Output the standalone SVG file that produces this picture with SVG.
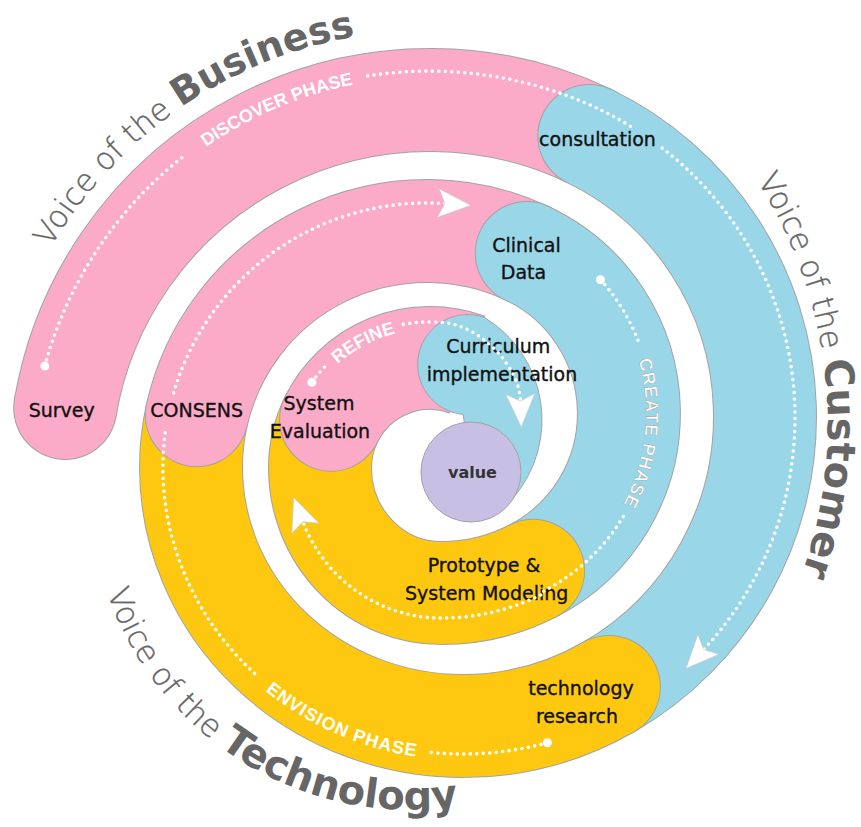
<svg xmlns="http://www.w3.org/2000/svg" width="861" height="827" viewBox="0 0 861 827">
<style>
.g{fill:none;stroke:#a3a3a3;stroke-width:104}
.cg{fill:#a3a3a3}
.pk{fill:none;stroke:#fbaac7;stroke-width:102}
.bl{fill:none;stroke:#99d7e8;stroke-width:102}
.yl{fill:none;stroke:#fdc80f;stroke-width:102}
.fpk{fill:#fbaac7}.fbl{fill:#99d7e8}.fyl{fill:#fdc80f}
.lb{font-family:'DejaVu Sans',Verdana,sans-serif;font-size:19px;fill:#111;stroke:#111;stroke-width:0.35;text-anchor:middle}
.dot{fill:none;stroke:#fff;stroke-width:3.6;stroke-linecap:round;stroke-dasharray:0 6.5}
.big{fill:#fff}
.ph{font-family:'Liberation Sans',Arial,sans-serif;font-weight:bold;font-size:18px;fill:#fff;text-anchor:middle}
.tt{font-family:'DejaVu Sans',sans-serif;fill:#666}
.lt{font-weight:200;font-size:31px;stroke:#666;stroke-width:0.4}
.bd{font-weight:bold;font-size:38px}
.bd2{font-weight:bold;font-size:40px}
</style>
<defs>
<marker id="arr" markerUnits="userSpaceOnUse" markerWidth="44" markerHeight="36" viewBox="-10 -18 44 36" refX="0" refY="0" orient="auto">
<path d="M0,0 L-7,-14.5 L26,0 L-7,14.5 Z" fill="#fff" stroke="#c8c8c8" stroke-width="0.6"/>
</marker>
<path id="pDisc" d="M152.1,192.1 A393,393 0 0 1 423.1,77.1"/>
<path id="pEnv" d="M250.3,677.8 A306,293 0 0 0 436.2,758.9"/>
<path id="pCre" d="M627.7,331.5 A194,194 0 0 1 606.8,530.3"/>
<path id="pRef" d="M323.5,378.7 A139,139 0 0 1 415.5,329.8"/>
<path id="tBus" d="M50.6,247.7 A440,440 0 0 1 468.2,31.7"/>
<path id="tCus" d="M757,180.3 A452,452 0 0 1 721.9,713.7"/>
<path id="tTec" d="M107.1,592.3 A323,323 0 0 0 574,766.8"/>
</defs>

<g id="survey">
<circle class="cg" cx="65.2" cy="408" r="52"/>
<path class="g" d="M65.2,408 A370,370 0 0 1 589.3,136"/>
<circle class="fpk" cx="65.2" cy="408" r="51"/>
<path class="pk" d="M65.2,408 A370,370 0 0 1 589.3,136"/>
<text class="lb" x="61.7" y="417">Survey</text>
</g>

<g id="consultation">
<circle class="cg" cx="589.3" cy="136" r="52"/>
<path class="g" d="M589.3,136 A312,312 0 0 1 608.9,686.9"/>
<circle class="fbl" cx="589.3" cy="136" r="51"/>
<path class="bl" d="M589.3,136 A312,312 0 0 1 608.9,686.9"/>
<text class="lb" x="597.5" y="146">consultation</text>
</g>

<g id="technology-research">
<circle class="cg" cx="608.9" cy="686.9" r="52"/>
<path class="g" d="M608.9,686.9 A292,292 0 0 1 462.9,726 A271.9,259 0 0 1 191,467 A236,236 0 0 1 196.8,415.1"/>
<circle class="fyl" cx="608.9" cy="686.9" r="51"/>
<path class="yl" d="M608.9,686.9 A292,292 0 0 1 462.9,726 A271.9,259 0 0 1 191,467 A236,236 0 0 1 196.8,415.1"/>
<text class="lb" x="581" y="695">technology</text>
<text class="lb" x="577" y="723">research</text>
</g>

<g id="consens">
<circle class="cg" cx="196.8" cy="415.1" r="52"/>
<path class="g" d="M196.8,415.1 A236,236 0 0 1 526.7,253.1"/>
<circle class="fpk" cx="196.8" cy="415.1" r="51"/>
<path class="pk" d="M196.8,415.1 A236,236 0 0 1 526.7,253.1"/>
<text class="lb" x="196.7" y="417">CONSENS</text>
</g>

<g id="clinical-data">
<circle class="cg" cx="526.7" cy="253.1" r="52"/>
<path class="g" d="M526.7,253.1 A177,177 0 0 1 533.1,570.8"/>
<circle class="fbl" cx="526.7" cy="253.1" r="51"/>
<path class="bl" d="M526.7,253.1 A177,177 0 0 1 533.1,570.8"/>
<text class="lb" x="526.5" y="251.5">Clinical</text>
<text class="lb" x="523.5" y="279">Data</text>
</g>

<g id="prototype">
<circle class="cg" cx="533.1" cy="570.8" r="52"/>
<path class="g" d="M533.1,570.8 A200,200 0 0 1 441.4,593.1 A121.4,125.1 0 0 1 320,468 A110,110 0 0 1 331.1,419.8"/>
<circle class="fyl" cx="533.1" cy="570.8" r="51"/>
<path class="yl" d="M533.1,570.8 A200,200 0 0 1 441.4,593.1 A121.4,125.1 0 0 1 320,468 A110,110 0 0 1 331.1,419.8"/>
<text class="lb" x="484" y="572">Prototype &amp;</text>
<text class="lb" x="486.7" y="600">System Modeling</text>
</g>

<g id="system-evaluation">
<circle class="cg" cx="331.1" cy="419.8" r="52"/>
<path class="g" d="M331.1,419.8 A110,110 0 0 1 467.6,364.6"/>
<circle class="fpk" cx="331.1" cy="419.8" r="51"/>
<path class="pk" d="M331.1,419.8 A110,110 0 0 1 467.6,364.6"/>
<text class="lb" x="319" y="410">System</text>
<text class="lb" x="320" y="438">Evaluation</text>
</g>

<g id="curriculum">
<path class="fbl" stroke="#a3a3a3" stroke-width="1" d="M484.7,317.6 A50,50 0 1 0 463.2,414.4 L471,472 L514,497 A120,120 0 0 0 484.7,317.6 Z"/>
<text class="lb" x="498.3" y="353">Curriculum</text>
<text class="lb" x="502" y="381">implementation</text>
</g>

<g id="value">
<circle cx="471" cy="472" r="50" fill="#c7bfe4" stroke="#a3a3a3" stroke-width="1"/>
<text x="472.5" y="478" font-family="'DejaVu Sans',sans-serif" font-weight="bold" font-size="16" fill="#333" text-anchor="middle">value</text>
</g>

<g id="connectors">
<circle class="big" cx="44.8" cy="366.1" r="4.5"/>
<path class="dot" d="M44.8,366.1 A399,399 0 0 1 184.4,155.6"/>
<path class="dot" d="M367.6,75.9 A399,399 0 0 1 601.6,110.3 A340,340 0 0 1 631.7,127.1"/>
<path class="dot" marker-end="url(#arr)" d="M662.2,148.1 A340,340 0 0 1 703.7,649.5"/>
<text class="ph"><textPath href="#pDisc" startOffset="50%">DISCOVER PHASE</textPath></text>

<circle class="big" cx="547.3" cy="742.7" r="4.5"/>
<path class="dot" d="M547.3,742.7 A320,320 0 0 1 462.9,754 A300,287 0 0 1 426.3,751.8"/>
<path class="dot" d="M254.5,673.4 A300,287 0 0 1 162.9,467 A264,264 0 0 1 165.6,429.8"/>
<text class="ph" letter-spacing="1"><textPath href="#pEnv" startOffset="50%">ENVISION PHASE</textPath></text>
<path class="dot" marker-end="url(#arr)" d="M173.6,392.9 A264,264 0 0 1 445,203.6"/>

<circle class="big" cx="600.5" cy="279.7" r="4.5"/>
<path class="dot" d="M600.5,279.7 A200,200 0 0 1 639.8,345.1"/>
<text class="ph" letter-spacing="0.8" stroke="#9a9a9a" stroke-width="0.4"><textPath href="#pCre" startOffset="50%">CREATE PHASE</textPath></text>
<path class="dot" marker-end="url(#arr)" d="M623.3,516.5 A200,200 0 0 1 543.6,591.2 L544.6,593 A225,225 0 0 1 441.4,618.1 A148.4,150.1 0 0 1 302.9,521.8"/>

<circle class="big" cx="311.9" cy="382.2" r="4.5"/>
<path class="dot" d="M311.9,382.2 A146,146 0 0 1 325,366.6"/>
<text class="ph" font-size="20"><textPath href="#pRef" startOffset="50%">REFINE</textPath></text>
<path class="dot" marker-end="url(#arr)" d="M403.4,324.4 A146,146 0 0 1 445.3,322.8 C480.1,326.5 519.5,366 520.5,401"/>
</g>

<g id="titles">
<text class="tt"><textPath href="#tBus"><tspan class="lt" font-size="29">Voice of the </tspan><tspan class="bd">Business</tspan></textPath></text>
<text class="tt"><textPath href="#tCus"><tspan class="lt">Voice of the </tspan><tspan class="bd2">Customer</tspan></textPath></text>
<text class="tt"><textPath href="#tTec"><tspan class="lt">Voice of the </tspan><tspan class="bd2">Technology</tspan></textPath></text>
</g>
</svg>
